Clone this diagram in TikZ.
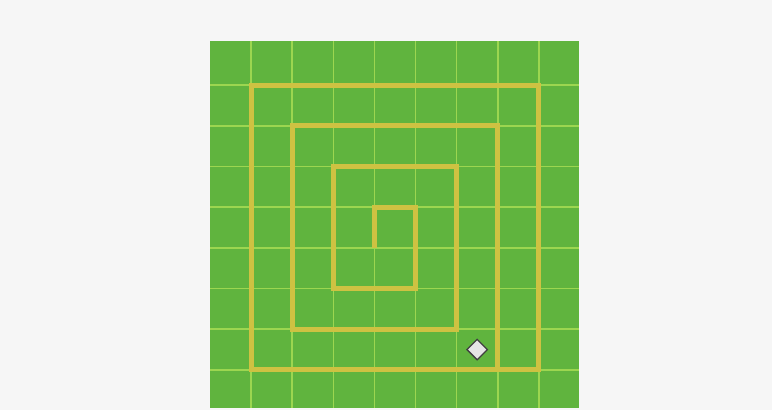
\documentclass[tikz,border=0pt]{standalone}
\usetikzlibrary{shapes.geometric}
\definecolor{fieldgreen}{RGB}{96,180,62}
\definecolor{gridgreen}{RGB}{156,214,80}
\definecolor{pathyellow}{RGB}{206,194,66}
\definecolor{paper}{RGB}{246,246,246}
\begin{document}
\begin{tikzpicture}[x=1pt, y=-1pt,
  gridline/.style={draw=gridgreen, line width=1.6pt},
  trail/.style={draw=pathyellow, line width=5pt, line join=miter},
  marker/.style={diamond, draw=black!75, fill=gray!20, line width=1.3pt, inner sep=0pt, minimum width=21pt, minimum height=21pt}
]
\useasboundingbox (0,0) rectangle (772,410);
\fill[paper] (0,0) rectangle (772,410);
\fill[fieldgreen] (210,41) rectangle (579,408);
\begin{scope}[shift={(210,44.3)}, x=41.1pt, y=-40.7pt]
\foreach \i in {1,...,8} {
  \draw[gridline] (\i,-0.08) -- (\i,8.94);
  \draw[gridline] (0,\i) -- (8.98,\i);
}
% spiral from the centre outwards
\draw[trail] (4,5) -- (4,4) -- (5,4) -- (5,6) -- (3,6) -- (3,3) -- (6,3) -- (6,7)
  -- (2,7) -- (2,2) -- (7,2) -- (7,8) -- (1,8) -- (1,1) -- (8,1) -- (8,8) -- (7,8);
\node[marker] (goal) at (6.5,7.5) {};
\end{scope}
\end{tikzpicture}
\end{document}
